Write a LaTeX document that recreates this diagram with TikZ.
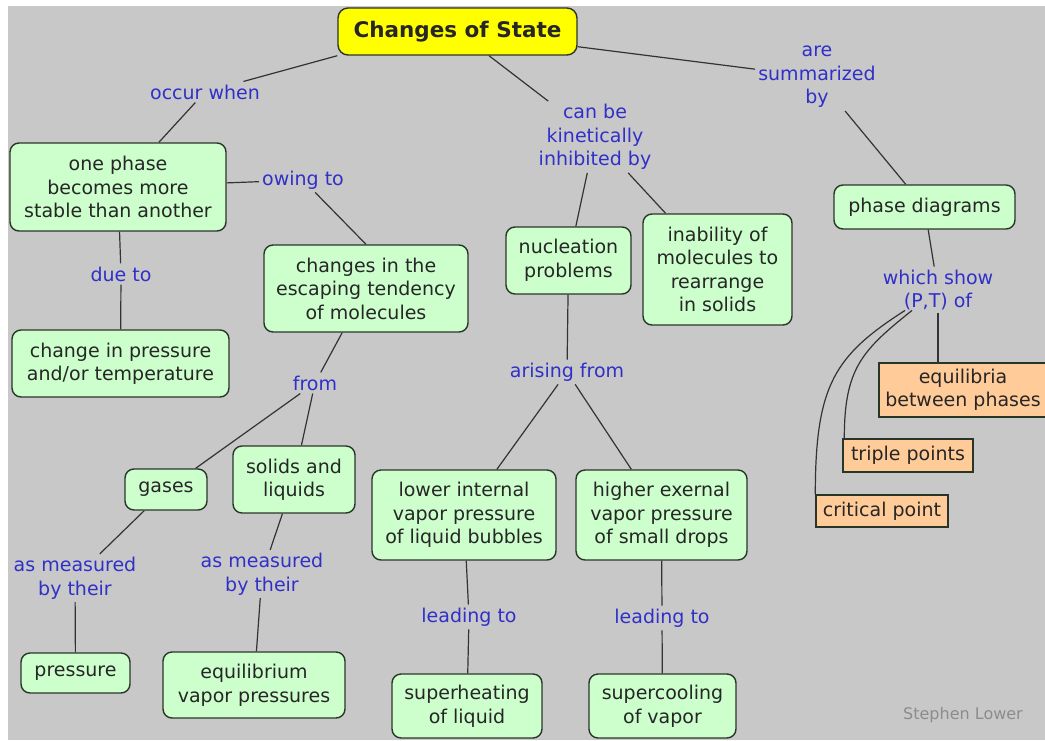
\documentclass[tikz,border=0pt]{standalone}
\usepackage{fontspec}
\setmainfont{DejaVu Sans}
\usetikzlibrary{calc}
\definecolor{mapbg}{HTML}{C8C8C8}
\definecolor{conceptfill}{HTML}{CCFFCC}
\definecolor{pointfill}{HTML}{FFCC99}
\definecolor{titlefill}{HTML}{FFFF00}
\definecolor{edgeline}{HTML}{2A352A}
\definecolor{linkblue}{HTML}{3030C8}
\definecolor{creditgray}{HTML}{8C8C8C}

\begin{document}
\begin{tikzpicture}[
    x=1pt, y=-1pt,
    concept/.style = {draw=edgeline, line width=1.4pt, fill=conceptfill,
        rounded corners=9pt, inner sep=0pt, align=center, text=black!85,
        font=\fontsize{19}{23.5}\selectfont},
    point/.style = {concept, sharp corners, fill=pointfill},
    boxsize/.style 2 args = {minimum width=#1pt, minimum height=#2pt},
    link/.style = {text=linkblue, align=center, inner sep=3pt,
        font=\fontsize{19}{23.5}\selectfont},
    relation/.style = {draw=black!80, line width=1.2pt}
  ]
  \fill[white] (0,0) rectangle (1045,740);
  \fill[mapbg] (8,6) rectangle (1045,740);
  \useasboundingbox (0,0) rectangle (1045,740);

  \node[concept, fill=titlefill, rounded corners=10pt, boxsize={239}{47},
    font=\fontsize{21.5}{26}\selectfont\bfseries] (state) at (457.5,31.5) {Changes of State};

  \node[concept, boxsize={216}{88}] (stable) at (118,187) {one phase\\becomes more\\stable than another};
  \node[concept, boxsize={217}{67}] (ptchange) at (120.5,363.5) {change in pressure\\and/or temperature};
  \node[concept, boxsize={204}{87}] (escaping) at (366,288.5) {changes in the\\escaping tendency\\of molecules};
  \node[concept, boxsize={82}{41}] (gases) at (166,489.5) {gases};
  \node[concept, boxsize={122}{67}] (condensed) at (294,479.5) {solids and\\liquids};
  \node[concept, boxsize={109}{40}] (pressure) at (75.5,673) {pressure};
  \node[concept, boxsize={182}{66}] (eqvap) at (254,685) {equilibrium\\vapor pressures};
  \node[concept, boxsize={125}{67}] (nucleation) at (568.5,260.5) {nucleation\\problems};
  \node[concept, boxsize={149}{111}] (rearrange) at (717.5,269.5) {inability of\\molecules to\\rearrange\\in solids};
  \node[concept, boxsize={184}{90}] (lower) at (464,515) {lower internal\\vapor pressure\\of liquid bubbles};
  \node[concept, boxsize={171}{90}] (higher) at (661.5,515) {higher exernal\\vapor pressure\\of small drops};
  \node[concept, boxsize={150}{64}] (superheat) at (467,706) {superheating\\of liquid};
  \node[concept, boxsize={147}{64}] (supercool) at (662.5,706) {supercooling\\of vapor};
  \node[concept, boxsize={181}{44}] (diagrams) at (924.5,207) {phase diagrams};

  \node[point, boxsize={168}{54}] (equilibria) at (963,390) {equilibria\\between phases};
  \node[point, boxsize={130}{33}] (triple) at (908,455.5) {triple points};
  \node[point, boxsize={132}{32}] (critical) at (882,511) {critical point};

  \node[link] (occur) at (205,92) {occur when};
  \node[link] (inhibited) at (595,137) {can be\\kinetically\\inhibited by};
  \node[link] (summarized) at (817,77) {are\\summarized\\by};
  \node[link] (owing) at (303,180) {owing to};
  \node[link] (dueto) at (121,274) {due to};
  \node[link] (from) at (315,383) {from};
  \node[link] (measgas) at (75,578) {as measured\\by their};
  \node[link] (meascond) at (262,574) {as measured\\by their};
  \node[link] (arising) at (567,372) {arising from};
  \node[link] (leadheat) at (469,617) {leading to};
  \node[link] (leadcool) at (662,618) {leading to};
  \node[link] (show) at (938,290) {which show\\(P,T) of};

  \node[text=creditgray, font=\fontsize{16}{19}\selectfont] (credit) at (963,715) {Stephen Lower};

  \draw[relation] (state.south west) -- (occur);
  \draw[relation] (occur) -- (stable);
  \draw[relation] (state) -- (inhibited);
  \draw[relation] (state) -- (summarized);
  \draw[relation] (summarized) -- (diagrams);
  \draw[relation] (stable) -- (owing);
  \draw[relation] (owing) -- (escaping.north);
  \draw[relation] (stable) -- (dueto);
  \draw[relation] (dueto) -- (ptchange);
  \draw[relation] (inhibited) -- (nucleation);
  \draw[relation] (inhibited) -- (rearrange);
  \draw[relation] (escaping) -- (from);
  \draw[relation] (from) -- (gases);
  \draw[relation] (from) -- (condensed);
  \draw[relation] (gases) -- (measgas);
  \draw[relation] (measgas) -- (pressure);
  \draw[relation] (condensed) -- (meascond);
  \draw[relation] (meascond) -- (eqvap);
  \draw[relation] (nucleation) -- (arising);
  \draw[relation] (arising) -- (lower);
  \draw[relation] (arising) -- (higher);
  \draw[relation] (lower) -- (leadheat);
  \draw[relation] (leadheat) -- (superheat);
  \draw[relation] (higher) -- (leadcool);
  \draw[relation] (leadcool) -- (supercool);
  \draw[relation] (diagrams) -- (show);
  \draw[relation] (show) -- (show |- equilibria.north);
  \draw[relation] ([xshift=-26pt,yshift=3pt]show.south) .. controls +(-50,40) and +(0,-70) .. ([xshift=2pt]triple.north west);
  \draw[relation] ([xshift=-33pt,yshift=3pt]show.south) .. controls +(-70,45) and +(0,-110) .. (critical.north west);
\end{tikzpicture}
\end{document}
